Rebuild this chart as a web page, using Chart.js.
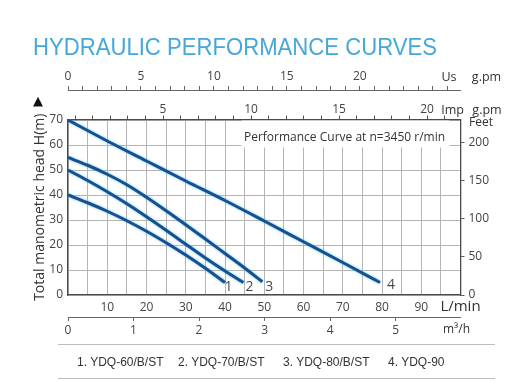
<!DOCTYPE html>
<html><head><meta charset="utf-8">
<script src="https://cdn.jsdelivr.net/npm/chart.js@4.4.1/dist/chart.umd.min.js"></script>
<style>
html,body{margin:0;padding:0;background:#fff;width:524px;height:381px;overflow:hidden;}
#wrap{position:relative;width:524px;height:381px;}
canvas{position:absolute;left:0;top:0;}
.title{position:absolute;left:33px;top:35px;font-family:"Liberation Sans",Arial,sans-serif;font-size:24px;line-height:24px;color:#45a8d6;white-space:nowrap;transform-origin:0 0;}
.leg{position:absolute;top:356px;font-family:"Liberation Sans",Arial,sans-serif;font-size:12px;line-height:12px;color:#333;white-space:nowrap;}
.rule{position:absolute;left:58px;width:437px;height:1px;background:#bdbdbd;}
</style></head><body>
<div id="wrap">
<canvas id="c" width="524" height="381"></canvas>
<div class="title" id="title">HYDRAULIC PERFORMANCE CURVES</div>
<div class="rule" style="top:344px"></div>
<div class="rule" style="top:378px"></div>
<div id="legend"></div>
</div>
<script>
// ---- data ----
const curveNumbers = ['1', '2', '3', '4'];
const modelNames = ['YDQ-60/B/ST', 'YDQ-70/B/ST', 'YDQ-80/B/ST', 'YDQ-90'];
const flow1 = [0, 5, 10, 15, 20, 25, 30, 35, 40];
const head1 = [40, 36.9, 33.5, 29.7, 25.5, 20.9, 16, 10.7, 5];
const flow2 = [0, 5, 10, 15, 20, 25, 30, 35, 40, 44.7];
const head2 = [50, 45.8, 41.3, 36.5, 31.3, 25.9, 20.3, 14.8, 9.6, 5];
const flow3 = [0, 5, 10, 15, 20, 25, 30, 35, 40, 45, 49.5];
const head3 = [55, 51.9, 48.3, 44.1, 39.1, 33.7, 28.1, 22.4, 16.6, 10.8, 5.3];
const flow4 = [0, 10, 20, 30, 40, 50, 60, 70, 79.5];
const head4 = [70, 61.6, 53.6, 45.6, 37.8, 29.6, 21.3, 13, 5];

const flowTicks = [10, 20, 30, 40, 50, 60, 70, 80, 90];      // L/min
const headTicks = [0, 10, 20, 30, 40, 50, 60, 70];          // m
const feetTicks = [0, 50, 100, 150, 200];                   // ft
const usGpmTicks = [0, 5, 10, 15, 20];                      // US g.pm
const impGpmTicks = [5, 10, 15, 20];                        // Imp g.pm
const m3hTicks = [0, 1, 2, 3, 4, 5];                        // m3/h

const titleText = 'HYDRAULIC PERFORMANCE CURVES';
const yTitle = 'Total manometric head H(m)';
const noteText = 'Performance Curve at n=3450 r/min';

const M_TO_FT = 3.28084;
const FLOW_MAX = 100, HEAD_MAX = 70.2;

// ---- HTML text ----
document.getElementById('title').textContent = titleText;
(function fitTitle(){
  const el = document.getElementById('title');
  const w = el.getBoundingClientRect().width;
  el.style.transform = 'scaleX(' + (404 / w) + ')';
})();
const legLeft = [77, 178, 283, 388];
const legendEl = document.getElementById('legend');
modelNames.forEach((n, i) => {
  const s = document.createElement('span');
  s.className = 'leg';
  s.style.left = legLeft[i] + 'px';
  s.textContent = curveNumbers[i] + '. ' + n;
  legendEl.appendChild(s);
});

// ---- chart ----
const series = [[flow1, head1], [flow2, head2], [flow3, head3], [flow4, head4]];
const FONT = 'Open Sans';
const tickFont = { family: FONT, size: 12 };
const tickColor = '#444';
const gridColor = '#b4b4b4';
const axisColor = '#4a4a4a';

const glow = {
  id: 'glow',
  beforeDatasetDraw(chart) { const c = chart.ctx; c.save(); c.shadowColor = 'rgba(80,190,245,0.9)'; c.shadowBlur = 2.5; },
  afterDatasetDraw(chart) { chart.ctx.restore(); }
};

const extras = {
  id: 'extras',
  afterDraw(chart) {
    const { ctx, chartArea: a } = chart;
    ctx.save();
    // note with white background
    ctx.fillStyle = '#fff';
    ctx.fillRect(a.right - 219, a.top + 1, 208, 27);
    ctx.fillStyle = '#333';
    ctx.font = '12px "' + FONT + '"';
    ctx.textAlign = 'center'; ctx.textBaseline = 'middle';
    ctx.fillText(noteText, a.right - 116, a.top + 18);
    // curve numbers near end points
    const offs = [[3.5, 5], [6, 5], [7, 5], [11, 3]];
    ctx.font = '14px "' + FONT + '"';
    ctx.fillStyle = '#4a4a4a';
    chart.data.datasets.forEach((d, i) => {
      const pts = chart.getDatasetMeta(i).data;
      const p = pts[pts.length - 1];
      ctx.fillText(curveNumbers[i], p.x + offs[i][0], p.y + offs[i][1]);
    });
    // unit labels
    ctx.fillStyle = '#333';
    ctx.font = '12.5px "' + FONT + '"';
    ctx.fillText('Us', a.right - 11.5, 77);
    ctx.fillText('g.pm', a.right + 26, 77);
    ctx.fillText('Imp', a.right - 8, 110);
    ctx.fillText('g.pm', a.right + 26.5, 110);
    ctx.font = '12px "' + FONT + '"';
    ctx.fillText('Feet', a.right + 20.5, a.top + 3.5);
    ctx.fillText('m\u00B3/h', a.right - 4, 330);
    ctx.font = '15px "' + FONT + '"';
    ctx.fillText('L/min', a.right, a.bottom + 12);
    ctx.font = '13px "DejaVu Sans"';
    ctx.fillStyle = '#111';
    ctx.fillText('\u25B2', 38, 102);
    ctx.restore();
  }
};

const lbl = (arr) => (v) => arr.includes(v) ? String(v) : '';

new Chart(document.getElementById('c'), {
  type: 'line',
  data: {
    datasets: series.map(([f, h], i) => ({
      label: modelNames[i],
      data: f.map((x, k) => ({ x, y: h[k] })),
      borderColor: '#18508e',
      borderWidth: 3,
      pointRadius: 0,
      cubicInterpolationMode: 'monotone',
      fill: false,
      xAxisID: 'x', yAxisID: 'y'
    }))
  },
  options: {
    responsive: false,
    animation: false,
    devicePixelRatio: 1,
    layout: { padding: { left: 28, right: 19, top: 60, bottom: 41 } },
    plugins: { legend: { display: false }, tooltip: { enabled: false } },
    scales: {
      x: {
        type: 'linear', position: 'bottom', weight: 0, min: 0, max: FLOW_MAX,
        afterFit(s) { s.height = 22; },
        grid: { color: gridColor, lineWidth: 1, drawTicks: false },
        border: { display: true, color: axisColor, width: 1.3 },
        ticks: { stepSize: 5, autoSkip: false, maxRotation: 0, padding: 5, color: tickColor, font: tickFont, callback: lbl(flowTicks) }
      },
      xM3: {
        type: 'linear', position: 'bottom', weight: 1, min: 0, max: FLOW_MAX / 16.667 - 0.01,
        afterFit(s) { s.height = 23; },
        grid: { drawOnChartArea: false, color: '#666', tickLength: 4 },
        border: { display: true, color: '#666' },
        ticks: { stepSize: 1, includeBounds: false, autoSkip: false, maxRotation: 0, padding: 2.3, color: tickColor, font: tickFont, callback: lbl(m3hTicks) }
      },
      xImp: {
        type: 'linear', position: 'top', weight: 0, min: -0.4, max: 21.9,
        afterFit(s) { s.height = 29.5; },
        grid: { drawOnChartArea: false, color: '#555', tickLength: 4 },
        border: { display: true, color: axisColor, width: 1.3 },
        ticks: { stepSize: 1, includeBounds: false, autoSkip: false, maxRotation: 0, padding: -1.5, color: tickColor, font: tickFont, callback: lbl(impGpmTicks) }
      },
      xUS: {
        type: 'linear', position: 'top', weight: 1, min: 0, max: 26.9,
        afterFit(s) { s.height = 30; },
        grid: { drawOnChartArea: false, color: '#666', tickLength: 4 },
        border: { display: true, color: '#666' },
        ticks: { stepSize: 1, includeBounds: false, autoSkip: false, maxRotation: 0, padding: 2, color: tickColor, font: tickFont, callback: lbl(usGpmTicks) }
      },
      y: {
        type: 'linear', position: 'left', min: 0, max: HEAD_MAX,
        afterFit(s) { s.width = 40; },
        grid: { color: gridColor, lineWidth: 1, drawTicks: false },
        border: { display: true, color: axisColor, width: 1.3 },
        ticks: { stepSize: 10, includeBounds: false, autoSkip: false, padding: 5, color: tickColor, font: tickFont, callback: lbl(headTicks) },
        title: { display: true, text: yTitle, color: '#333', font: { family: FONT, size: 14 }, padding: { top: 4, bottom: 0 } }
      },
      yFt: {
        type: 'linear', position: 'right', min: 0, max: HEAD_MAX * M_TO_FT,
        afterFit(s) { s.width = 44.5; },
        grid: { drawOnChartArea: false, color: '#555', tickLength: 4 },
        border: { display: true, color: axisColor, width: 1.3 },
        ticks: { stepSize: 50, includeBounds: false, autoSkip: false, padding: 4, color: tickColor, font: tickFont, callback: lbl(feetTicks) }
      }
    }
  },
  plugins: [glow, extras]
});
</script>
</body></html>
